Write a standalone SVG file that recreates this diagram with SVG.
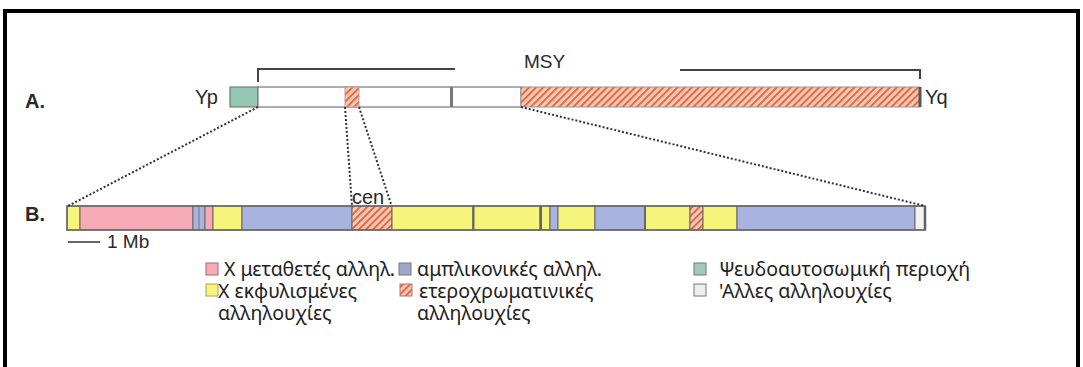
<svg xmlns="http://www.w3.org/2000/svg" width="1083" height="367" viewBox="0 0 1083 367">
<defs>
<pattern id="hatch" patternUnits="userSpaceOnUse" width="5" height="5" patternTransform="rotate(45)">
<rect width="5" height="5" fill="#f7c9b3"/>
<line x1="1" y1="0" x2="1" y2="5" stroke="#e0603e" stroke-width="1.8"/>
</pattern>
<style>
.lbl{font-family:"Liberation Sans",Arial,sans-serif;fill:#2a2a2a}
.leg{font-family:"Noto Sans",sans-serif;font-size:19.5px;fill:#222}
.seg{stroke:#666;stroke-width:1}
.dot{stroke:#333;stroke-width:2;stroke-dasharray:2 2;fill:none}
.brk{stroke:#444;stroke-width:2;fill:none}
.pink{fill:#f6aab5}
.yel{fill:#f7f47c}
.blue{fill:#a9b3e0}
.hat{fill:url(#hatch)}
.sq{stroke:#777;stroke-width:1}
</style>
</defs>
<rect x="5" y="11" width="1073" height="420" fill="#fff" stroke="#000" stroke-width="4"/>

<g id="chromA">
<text class="lbl" x="25" y="108" font-size="20" font-weight="bold">A.</text>
<text class="lbl" x="195" y="104" font-size="20">Yp</text>
<rect x="230" y="87" width="28" height="20" fill="#95c8b1" class="seg"/>
<rect x="258" y="87" width="263" height="20" fill="#fff" stroke="#777" stroke-width="1.2"/>
<rect x="345" y="87" width="14" height="20" class="hat" stroke="#c99" stroke-width="1"/>
<line x1="451.5" y1="87" x2="451.5" y2="107" stroke="#777" stroke-width="3"/>
<rect x="521" y="87" width="399" height="20" class="hat" stroke="#999" stroke-width="1"/>
<line x1="920" y1="87" x2="920" y2="107" stroke="#555" stroke-width="3"/>
<text class="lbl" x="925" y="104" font-size="20">Yq</text>
<path class="brk" d="M258,82 V69 H455"/>
<path class="brk" d="M680,70 H920 V79"/>
<text class="lbl" x="524" y="68" font-size="19">MSY</text>
</g>

<g id="chromB">
<text class="lbl" x="25" y="221" font-size="20" font-weight="bold">B.</text>
<rect x="67" y="206" width="13" height="24" class="yel seg"/>
<rect x="80" y="206" width="113" height="24" class="pink seg"/>
<rect x="193" y="206" width="12" height="24" class="blue seg"/>
<line x1="199" y1="206" x2="199" y2="230" stroke="#777" stroke-width="1"/>
<rect x="205" y="206" width="8" height="24" class="pink seg"/>
<rect x="213" y="206" width="29" height="24" class="yel seg"/>
<rect x="242" y="206" width="110" height="24" class="blue seg"/>
<rect x="352" y="206" width="40" height="24" class="hat seg"/>
<rect x="392" y="206" width="81" height="24" class="yel seg"/>
<rect x="473" y="206" width="67" height="24" class="yel seg"/>
<rect x="540" y="206" width="10" height="24" class="yel seg"/>
<rect x="550" y="206" width="8" height="24" class="blue seg"/>
<rect x="558" y="206" width="37" height="24" class="yel seg"/>
<rect x="595" y="206" width="50" height="24" class="blue seg"/>
<rect x="645" y="206" width="45" height="24" class="yel seg"/>
<rect x="690" y="206" width="13" height="24" class="hat seg"/>
<rect x="703" y="206" width="34" height="24" class="yel seg"/>
<rect x="737" y="206" width="178" height="24" class="blue seg"/>
<rect x="915" y="206" width="10" height="24" fill="#f2f2f2" class="seg"/>
<line x1="473.5" y1="206" x2="473.5" y2="230" stroke="#666" stroke-width="2"/>
<line x1="541" y1="206" x2="541" y2="230" stroke="#666" stroke-width="2"/>
<line x1="645" y1="206" x2="645" y2="230" stroke="#666" stroke-width="2"/>
<line x1="925" y1="206" x2="925" y2="230" stroke="#555" stroke-width="2.5"/>
<rect x="67" y="206" width="858" height="24" fill="none" stroke="#666" stroke-width="1.5"/>
<text class="lbl" x="352" y="204" font-size="20">cen</text>
<line x1="68" y1="242" x2="100" y2="242" stroke="#333" stroke-width="1.5"/>
<text class="lbl" x="107" y="248" font-size="19">1 Mb</text>
</g>

<g id="connectors">
<path class="dot" d="M258,107 L68,206"/>
<path class="dot" d="M345,107 L352,206"/>
<path class="dot" d="M359,107 L391,204"/>
<path class="dot" d="M521,107 L925,206"/>
</g>

<g id="legend-x-transposed">
<rect x="206" y="263" width="12" height="12" class="pink" stroke="#a06a74" stroke-width="1"/>
<text class="leg" x="224" y="276">Χ μεταθετές αλληλ.</text>
</g>
<g id="legend-x-degenerate">
<rect x="206" y="284" width="12" height="12" class="yel" stroke="#b0a050" stroke-width="1"/>
<text class="leg" x="218" y="298">Χ εκφυλισμένες</text>
<text class="leg" x="218" y="320">αλληλουχίες</text>
</g>
<g id="legend-ampliconic">
<rect x="399" y="263" width="12" height="12" fill="#9ea8cc" class="sq"/>
<text class="leg" x="417" y="276">αμπλικονικές αλληλ.</text>
</g>
<g id="legend-heterochromatic">
<rect x="400" y="284" width="12" height="12" class="hat" stroke="#a77" stroke-width="1"/>
<text class="leg" x="419" y="298">ετεροχρωματινικές</text>
<text class="leg" x="417" y="320">αλληλουχίες</text>
</g>
<g id="legend-pseudoautosomal">
<rect x="694" y="263" width="12" height="12" fill="#9fcbb6" class="sq"/>
<text class="leg" x="719" y="276">Ψευδοαυτοσωμική περιοχή</text>
</g>
<g id="legend-other">
<rect x="694" y="284" width="12" height="12" fill="#eeeeee" class="sq"/>
<text class="leg" x="719" y="298">'Αλλες αλληλουχίες</text>
</g>
</svg>
